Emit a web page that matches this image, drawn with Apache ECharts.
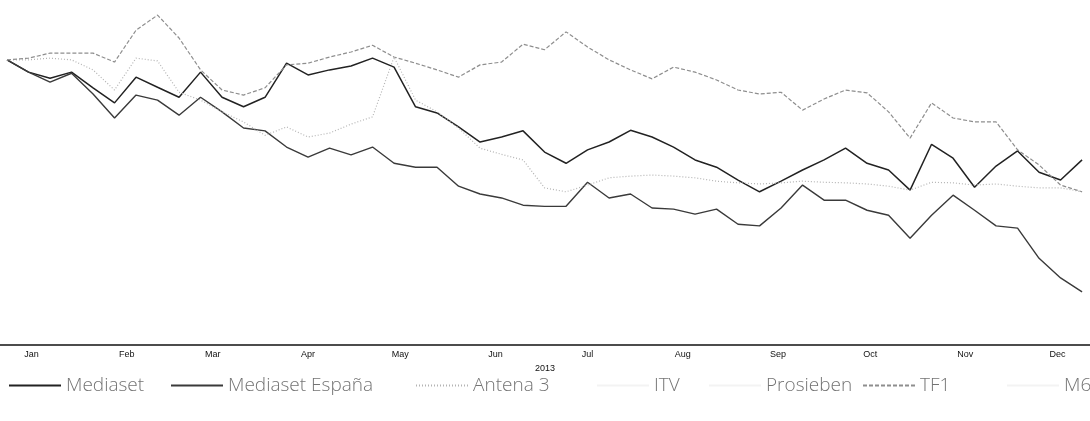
<!DOCTYPE html>
<html>
<head>
<meta charset="utf-8">
<title>TV broadcasters 2013</title>
<script src="https://cdn.jsdelivr.net/npm/echarts@6/dist/echarts.min.js"></script>
<style>
  html, body { margin: 0; padding: 0; background: #ffffff; }
  #chart { width: 1090px; height: 421px; }
</style>
</head>
<body>
<div id="chart"></div>
<script>
// Weekly observations (Mondays), indexed share performance
const weeks = [
  '2012-12-24', '2012-12-31', '2013-01-07', '2013-01-14', '2013-01-21', '2013-01-28',
  '2013-02-04', '2013-02-11', '2013-02-18', '2013-02-25', '2013-03-04', '2013-03-11',
  '2013-03-18', '2013-03-25', '2013-04-01', '2013-04-08', '2013-04-15', '2013-04-22',
  '2013-04-29', '2013-05-06', '2013-05-13', '2013-05-20', '2013-05-27', '2013-06-03',
  '2013-06-10', '2013-06-17', '2013-06-24', '2013-07-01', '2013-07-08', '2013-07-15',
  '2013-07-22', '2013-07-29', '2013-08-05', '2013-08-12', '2013-08-19', '2013-08-26',
  '2013-09-02', '2013-09-09', '2013-09-16', '2013-09-23', '2013-09-30', '2013-10-07',
  '2013-10-14', '2013-10-21', '2013-10-28', '2013-11-04', '2013-11-11', '2013-11-18',
  '2013-11-25', '2013-12-02', '2013-12-09'
];

const monthLabels = ['Jan', 'Feb', 'Mar', 'Apr', 'May', 'Jun', 'Jul', 'Aug', 'Sep', 'Oct', 'Nov', 'Dec'];
const yearLabel = '2013';

const mediaset = [
  100.3, 98.1, 97.0, 98.1, 95.3, 92.6, 97.2, 95.4, 93.6, 98.1,
  93.6, 91.9, 93.6, 99.7, 97.6, 98.5, 99.2, 100.6, 99.0, 91.9,
  90.8, 88.3, 85.6, 86.5, 87.6, 83.8, 81.8, 84.2, 85.6, 87.7,
  86.5, 84.7, 82.4, 81.1, 78.8, 76.7, 78.6, 80.6, 82.4, 84.5,
  81.8, 80.6, 77.0, 85.2, 82.7, 77.5, 81.3, 84.0, 80.2, 78.8,
  82.4
];

const mediasetEspana = [
  100.3, 98.1, 96.3, 97.9, 94.2, 89.9, 94.0, 93.1, 90.4, 93.6,
  91.0, 88.1, 87.6, 84.7, 82.9, 84.5, 83.3, 84.7, 81.8, 81.1,
  81.1, 77.7, 76.3, 75.6, 74.3, 74.1, 74.1, 78.4, 75.6, 76.3,
  73.8, 73.6, 72.7, 73.6, 70.9, 70.6, 73.8, 77.9, 75.2, 75.2,
  73.4, 72.5, 68.4, 72.5, 76.1, 73.4, 70.6, 70.2, 64.8, 61.3,
  58.8
];

const antena3 = [
  100.3, 100.3, 100.6, 100.3, 98.5, 94.9, 100.6, 100.1, 94.5, 93.1,
  91.0, 89.2, 86.8, 88.3, 86.5, 87.2, 88.8, 90.1, 100.8, 93.1,
  91.0, 88.1, 84.5, 83.4, 82.4, 77.4, 76.7, 77.9, 79.2, 79.5,
  79.7, 79.5, 79.2, 78.6, 78.3, 78.1, 78.3, 78.6, 78.4, 78.3,
  78.1, 77.7, 77.0, 78.4, 78.3, 77.9, 78.1, 77.7, 77.4, 77.4,
  76.7
];

const itv = [];
const prosieben = [];

const tf1 = [
  100.3, 100.6, 101.5, 101.5, 101.5, 99.9, 105.6, 108.3, 104.2, 98.5,
  94.9, 94.0, 95.3, 99.4, 99.7, 100.8, 101.7, 102.9, 100.8, 99.7,
  98.5, 97.2, 99.4, 99.9, 103.1, 102.1, 105.3, 102.6, 100.3, 98.5,
  96.9, 99.0, 98.1, 96.7, 94.9, 94.2, 94.5, 91.3, 93.3, 94.9,
  94.4, 91.0, 86.3, 92.6, 89.9, 89.2, 89.2, 84.2, 81.5, 77.9,
  76.7
];

const m6 = [];

const seriesNames = ['Mediaset', 'Mediaset España', 'Antena 3', 'ITV', 'Prosieben', 'TF1', 'M6'];
const seriesValues = [mediaset, mediasetEspana, antena3, itv, prosieben, tf1, m6];

const lineStyles = [
  { color: '#222222', width: 1.5, type: 'solid' },
  { color: '#3a3a3a', width: 1.4, type: 'solid' },
  { color: '#b4b4b4', width: 1.2, type: [1, 2] },
  { color: '#f3f3f3', width: 1, type: 'solid' },
  { color: '#f3f3f3', width: 1, type: 'solid' },
  { color: '#8e8e8e', width: 1.2, type: [4, 2] },
  { color: '#f3f3f3', width: 1, type: 'solid' }
];

// Left edge of each legend entry along the bottom row
const legendLefts = [3, 165, 410, 591, 703, 857, 1001];

const series = seriesNames.map((name, k) => ({
  name: name,
  type: 'line',
  symbol: 'none',
  smooth: false,
  lineStyle: lineStyles[k],
  itemStyle: { color: lineStyles[k].color },
  data: seriesValues[k].map((v, i) => [weeks[i], v])
}));

const legends = seriesNames.map((name, k) => ({
  data: [name],
  left: legendLefts[k],
  top: 371,
  orient: 'horizontal',
  itemWidth: 52,
  itemHeight: 14,
  itemGap: 0,
  selectedMode: false,
  itemStyle: { opacity: 0 },
  textStyle: {
    color: '#747474',
    fontSize: 19,
    fontFamily: 'Open Sans',
    fontWeight: 300
  }
}));

const chart = echarts.init(document.getElementById('chart'), null, { renderer: 'canvas' });

chart.setOption({
  animation: false,
  backgroundColor: '#ffffff',
  grid: { left: 0, right: 0, top: 0, bottom: 76, containLabel: false },
  legend: legends,
  xAxis: {
    type: 'time',
    min: '2012-12-21 17:00',
    max: '2013-12-11 14:00',
    splitNumber: 12,
    name: yearLabel,
    nameLocation: 'middle',
    nameGap: 19,
    nameTextStyle: { color: '#111111', fontSize: 9, fontFamily: 'Liberation Sans' },
    axisLine: { show: true, onZero: false, lineStyle: { color: '#111111', width: 1.5 } },
    axisTick: { show: false },
    splitLine: { show: false },
    axisLabel: {
      color: '#111111',
      fontSize: 9,
      fontFamily: 'Liberation Sans',
      margin: 5,
      showMinLabel: false,
      showMaxLabel: false,
      formatter: function (value) {
        return monthLabels[new Date(value).getMonth()];
      }
    }
  },
  yAxis: {
    type: 'value',
    min: 49.3,
    max: 111,
    show: false,
    splitLine: { show: false }
  },
  series: series
});
</script>
</body>
</html>
